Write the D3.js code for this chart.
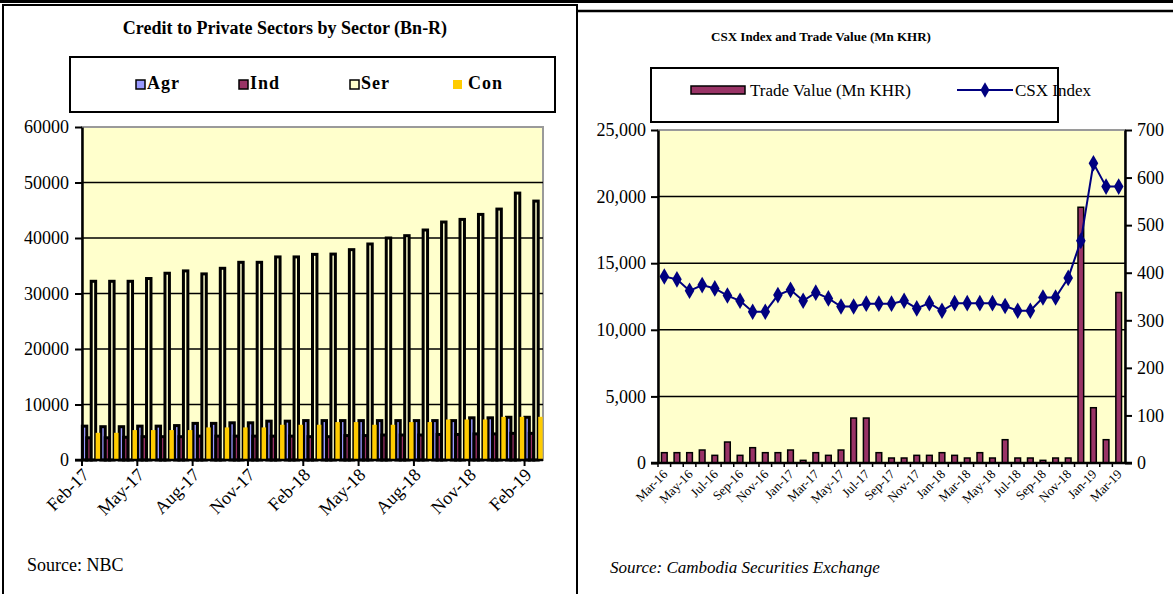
<!DOCTYPE html>
<html>
<head>
<meta charset="utf-8">
<script src="https://cdn.jsdelivr.net/npm/d3@7/dist/d3.min.js"></script>
<style>
body { margin: 0; background: #fff; }
svg { display: block; }
svg text { font-family: "Liberation Serif", "Times New Roman", serif !important; }
</style>
</head>
<body>
<svg width="1173" height="594"></svg>
<script>
// ---- left chart data (Bn-R)
const creditMonths = ["Feb-17","Mar-17","Apr-17","May-17","Jun-17","Jul-17","Aug-17","Sep-17","Oct-17","Nov-17","Dec-17","Jan-18",
  "Feb-18","Mar-18","Apr-18","May-18","Jun-18","Jul-18","Aug-18","Sep-18","Oct-18","Nov-18","Dec-18","Jan-19","Feb-19"]
const creditTicks = ["Feb-17","May-17","Aug-17","Nov-17","Feb-18","May-18","Aug-18","Nov-18","Feb-19"]
const sectors = ["Agr","Ind","Ser","Con"]
const agr = [6100,6000,6000,6100,6100,6200,6600,6600,6700,6700,7000,7000,7100,7100,7100,7100,7100,7100,7100,7100,7100,7600,7600,7700,7700]
const ind = [4000,4000,4100,4200,4200,4200,4300,4300,4300,4300,4300,4300,4200,4200,4400,4400,4500,4500,4500,4600,4600,4700,4700,4800,4800]
const ser = [32200,32200,32200,32700,33650,34070,33530,34540,35620,35620,36590,36590,37050,37100,37900,38920,40000,40420,41440,42880,43350,44250,45210,48090,46650]
const con = [4900,4900,5390,5390,5390,5390,5870,5870,5870,5870,6350,6350,6350,6830,6830,6350,6350,6830,6830,7300,7300,7300,7780,7780,7780]
const creditYTicks = [0,10000,20000,30000,40000,50000,60000]

// ---- right chart data
const tradeMonths = ["Mar-16","Apr-16","May-16","Jun-16","Jul-16","Aug-16","Sep-16","Oct-16","Nov-16","Dec-16",
  "Jan-17","Feb-17","Mar-17","Apr-17","May-17","Jun-17","Jul-17","Aug-17","Sep-17","Oct-17","Nov-17","Dec-17",
  "Jan-18","Feb-18","Mar-18","Apr-18","May-18","Jun-18","Jul-18","Aug-18","Sep-18","Oct-18","Nov-18","Dec-18",
  "Jan-19","Feb-19","Mar-19"]
const tradeValue = [775,775,775,975,575,1575,575,1150,775,775,975,200,775,575,975,3375,3375,775,375,375,575,575,
  775,575,375,775,375,1750,375,375,200,375,375,19200,4150,1750,12800]
const csxIndex = [392,386,362,374,367,352,341,318,318,353,364,341,358,346,329,329,335,335,335,341,325,336,
  320,336,336,336,336,330,320,320,348,348,389,467,630,581,581]
const tradeYTicks = [0,5000,10000,15000,20000,25000]
const indexYTicks = [0,100,200,300,400,500,600,700]

const colors = {Agr: "#9999ff", Ind: "#993366", Ser: "#ffffcc", Con: "#ffcc00"}
const plotBg = "#ffffcc"

const svg = d3.select("svg")

// panel frames
svg.append("line").attr("x1", 0).attr("x2", 1173).attr("y1", 1.5).attr("y2", 1.5).attr("stroke", "#000").attr("stroke-width", 3)
svg.append("rect").attr("x", 3).attr("y", 5).attr("width", 574).attr("height", 600)
  .attr("fill", "none").attr("stroke", "#000").attr("stroke-width", 2)
svg.append("line").attr("x1", 578).attr("x2", 1173).attr("y1", 11).attr("y2", 11).attr("stroke", "#000").attr("stroke-width", 2.5)

// ================= LEFT CHART =================
let lLeft = 82, lRight = 543, lTop = 127, lBottom = 460

const g1 = svg.append("g")

g1.append("text").attr("x", 285).attr("y", 34).attr("text-anchor", "middle")
  .attr("font-size", "18px").attr("font-weight", "bold").text("Credit to Private Sectors by Sector (Bn-R)")

// legend
g1.append("rect").attr("x", 70).attr("y", 57).attr("width", 485).attr("height", 55)
  .attr("fill", "#fff").attr("stroke", "#000").attr("stroke-width", 2)
const legX = [136, 239, 350, 453]
sectors.forEach(function(s, i) {
  if (s == "Con") {
    g1.append("rect").attr("x", legX[i]).attr("y", 80).attr("width", 9).attr("height", 9).attr("fill", colors[s])
  } else {
    g1.append("rect").attr("x", legX[i]).attr("y", 80).attr("width", 9).attr("height", 9)
      .attr("fill", colors[s]).attr("stroke", "#000").attr("stroke-width", 1.5)
  }
  g1.append("text").attr("x", legX[i] + (s == "Con" ? 15 : 11)).attr("y", 89)
    .attr("font-size", "18px").attr("font-weight", "bold").attr("letter-spacing", "1px").text(s)
})

const x1 = d3.scaleBand().domain(creditMonths).range([lLeft, lRight])
const xs = d3.scaleBand().domain(sectors).range([0, x1.bandwidth()]).paddingInner(0).paddingOuter(0.08)
const y1 = d3.scaleLinear().domain([0, 60000]).range([lBottom, lTop])

g1.append("rect").attr("x", lLeft).attr("y", lTop).attr("width", lRight - lLeft).attr("height", lBottom - lTop)
  .attr("fill", plotBg).attr("stroke", "#9a9a9a").attr("stroke-width", 2)

g1.selectAll(".grid").data(creditYTicks.filter(d => d > 0 && d < 60000)).enter().append("line")
  .attr("x1", lLeft).attr("x2", lRight).attr("y1", d => y1(d)).attr("y2", d => y1(d))
  .attr("stroke", "#000").attr("stroke-width", 1.5)

const creditSeries = {Agr: agr, Ind: ind, Ser: ser, Con: con}
sectors.forEach(function(s) {
  g1.selectAll(".bar-" + s).data(creditSeries[s]).enter().append("rect")
    .attr("x", (d, i) => x1(creditMonths[i]) + xs(s))
    .attr("y", d => y1(d))
    .attr("width", xs.bandwidth())
    .attr("height", d => lBottom - y1(d))
    .attr("fill", colors[s])
    .attr("stroke", s == "Con" ? "none" : "#000")
    .attr("stroke-width", 3)
})

// axes
const yAxis1 = d3.axisLeft(y1).tickValues(creditYTicks).tickSize(7).tickSizeOuter(0).tickPadding(6).tickFormat(d3.format("d"))
g1.append("g").attr("transform", `translate(${lLeft},0)`).call(yAxis1)
  .call(g => g.select(".domain").attr("stroke-width", 2.5))
  .call(g => g.selectAll("line").attr("stroke-width", 2))
  .selectAll("text").attr("font-size", "18px").attr("fill", "#000")

g1.append("line").attr("x1", lLeft - 7).attr("x2", lRight).attr("y1", lBottom).attr("y2", lBottom)
  .attr("stroke", "#000").attr("stroke-width", 2.5)
creditTicks.forEach(function(m) {
  let tx = x1(m)
  g1.append("line").attr("x1", tx).attr("x2", tx).attr("y1", lBottom).attr("y2", lBottom + 6)
    .attr("stroke", "#000").attr("stroke-width", 2)
  g1.append("text").attr("transform", `translate(${tx + 8},${lBottom + 16}) rotate(-45)`)
    .attr("text-anchor", "end").attr("font-size", "18px").text(m)
})

g1.append("text").attr("x", 27).attr("y", 571).attr("font-size", "18px").text("Source: NBC")

// ================= RIGHT CHART =================
let rLeft = 658, rRight = 1125, rTop = 130, rBottom = 463

const g2 = svg.append("g")

g2.append("text").attr("x", 821).attr("y", 41).attr("text-anchor", "middle")
  .attr("font-size", "13px").attr("font-weight", "bold").text("CSX Index and Trade Value (Mn KHR)")

// legend
g2.append("rect").attr("x", 651).attr("y", 68).attr("width", 407).attr("height", 54)
  .attr("fill", "#fff").attr("stroke", "#000").attr("stroke-width", 2)
g2.append("rect").attr("x", 691).attr("y", 86).attr("width", 54).attr("height", 8)
  .attr("fill", colors.Ind).attr("stroke", "#000").attr("stroke-width", 1.5)
g2.append("text").attr("x", 750).attr("y", 96).attr("font-size", "17px").text("Trade Value (Mn KHR)")
g2.append("line").attr("x1", 957).attr("x2", 1013).attr("y1", 90).attr("y2", 90).attr("stroke", "#000080").attr("stroke-width", 2)
g2.append("path").attr("d", d3.symbol(d3.symbolDiamond).size(70)()).attr("transform", "translate(985,90)").attr("fill", "#000080")
g2.append("text").attr("x", 1015).attr("y", 96).attr("font-size", "17px").text("CSX Index")

const x2 = d3.scaleBand().domain(tradeMonths).range([rLeft, rRight])
const yL = d3.scaleLinear().domain([0, 25000]).range([rBottom, rTop])
const yR = d3.scaleLinear().domain([0, 700]).range([rBottom, rTop])

g2.append("rect").attr("x", rLeft).attr("y", rTop).attr("width", rRight - rLeft).attr("height", rBottom - rTop)
  .attr("fill", plotBg).attr("stroke", "#9a9a9a").attr("stroke-width", 2)

g2.selectAll(".grid").data(tradeYTicks.filter(d => d > 0 && d < 25000)).enter().append("line")
  .attr("x1", rLeft).attr("x2", rRight).attr("y1", d => yL(d)).attr("y2", d => yL(d))
  .attr("stroke", "#000").attr("stroke-width", 1.5)

const barW = x2.bandwidth() * 0.45
g2.selectAll(".trade").data(tradeValue).enter().append("rect")
  .attr("x", (d, i) => x2(tradeMonths[i]) + (x2.bandwidth() - barW) / 2)
  .attr("y", d => yL(d))
  .attr("width", barW)
  .attr("height", d => rBottom - yL(d))
  .attr("fill", colors.Ind)
  .attr("stroke", "#000")
  .attr("stroke-width", 1.5)

const line = d3.line()
  .x((d, i) => x2(tradeMonths[i]) + x2.bandwidth() / 2)
  .y(d => yR(d))
g2.append("path").datum(csxIndex).attr("d", line).attr("fill", "none").attr("stroke", "#000080").attr("stroke-width", 2)
g2.selectAll(".pt").data(csxIndex).enter().append("path")
  .attr("d", d3.symbol(d3.symbolDiamond).size(80)())
  .attr("transform", (d, i) => `translate(${x2(tradeMonths[i]) + x2.bandwidth() / 2},${yR(d)})`)
  .attr("fill", "#000080")

const yAxisL = d3.axisLeft(yL).tickValues(tradeYTicks).tickSize(7).tickSizeOuter(0).tickPadding(5).tickFormat(d3.format(","))
g2.append("g").attr("transform", `translate(${rLeft},0)`).call(yAxisL)
  .call(g => g.select(".domain").attr("stroke-width", 2.5))
  .call(g => g.selectAll("line").attr("stroke-width", 2))
  .selectAll("text").attr("font-size", "18px").attr("fill", "#000")

const yAxisR = d3.axisRight(yR).tickValues(indexYTicks).tickSize(7).tickSizeOuter(0).tickPadding(5)
g2.append("g").attr("transform", `translate(${rRight},0)`).call(yAxisR)
  .call(g => g.select(".domain").attr("stroke-width", 2.5))
  .call(g => g.selectAll("line").attr("stroke-width", 2))
  .selectAll("text").attr("font-size", "18px").attr("fill", "#000")

g2.append("line").attr("x1", rLeft - 7).attr("x2", rRight + 7).attr("y1", rBottom).attr("y2", rBottom)
  .attr("stroke", "#000").attr("stroke-width", 2.5)
tradeMonths.forEach(function(m, i) {
  let tx = x2(m)
  g2.append("line").attr("x1", tx).attr("x2", tx).attr("y1", rBottom).attr("y2", rBottom + 4)
    .attr("stroke", "#000").attr("stroke-width", 1.5)
  if (i % 2 == 0) {
    g2.append("text").attr("transform", `translate(${tx + x2.bandwidth() / 2 + 4},${rBottom + 12}) rotate(-45)`)
      .attr("text-anchor", "end").attr("font-size", "13px").text(m)
  }
})

g2.append("text").attr("x", 610).attr("y", 573).attr("font-size", "17px").attr("font-style", "italic")
  .text("Source: Cambodia Securities Exchange")
</script>
</body>
</html>
